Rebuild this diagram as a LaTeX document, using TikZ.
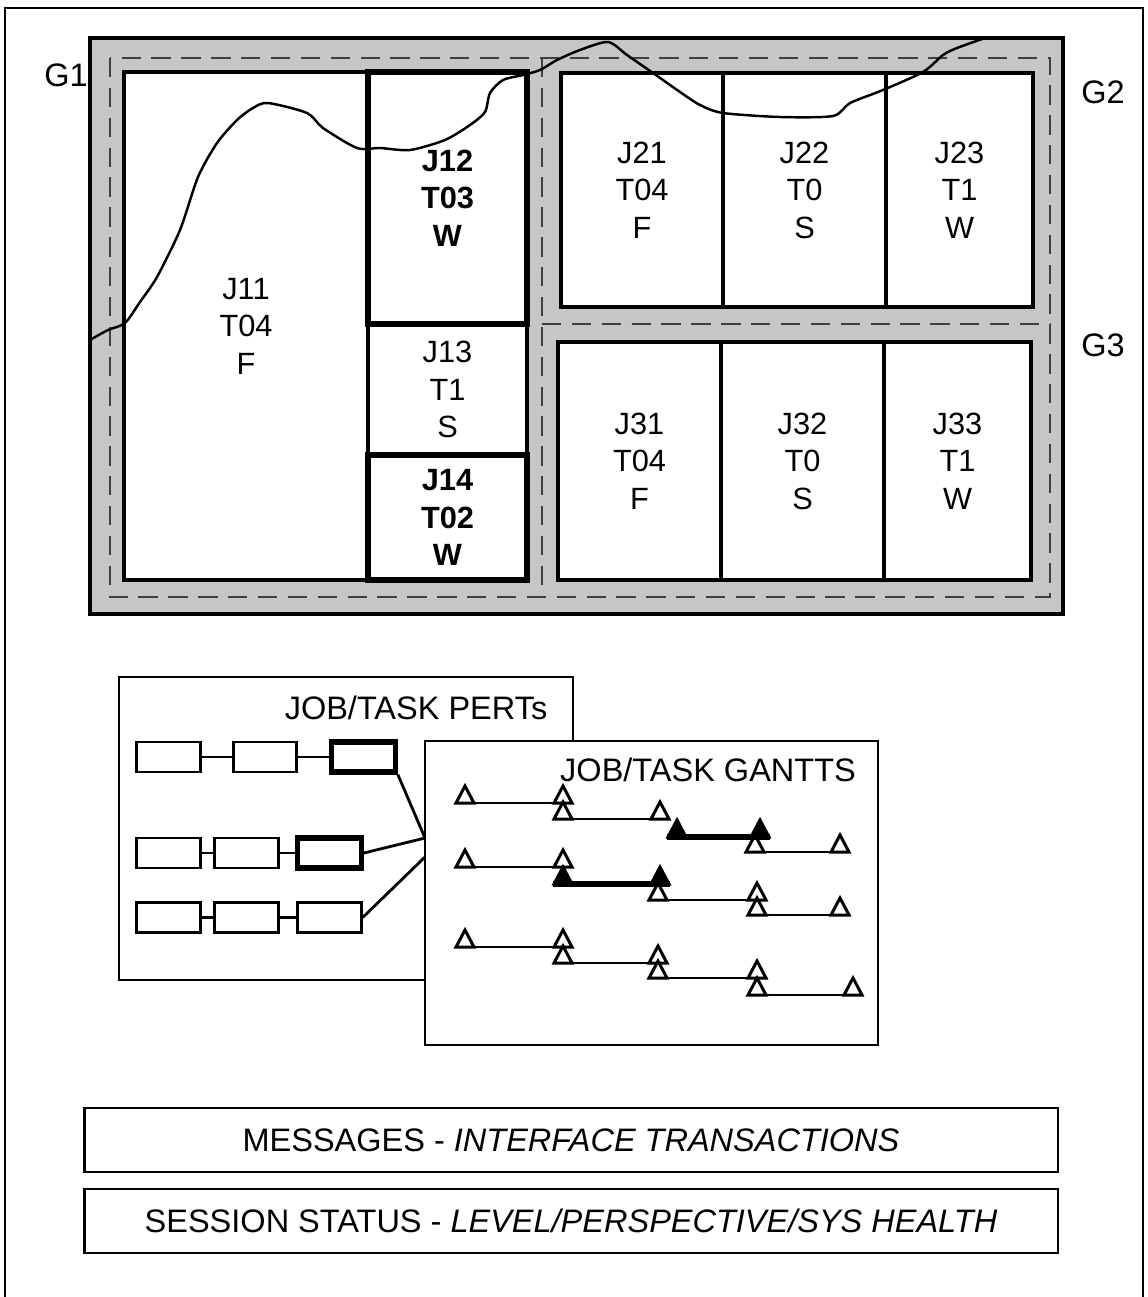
\documentclass[tikz,border=0pt]{standalone}
\usepackage{fontspec}
\setmainfont{Liberation Sans}
\usetikzlibrary{positioning}

\begin{document}
\begin{tikzpicture}[x=0.02cm,y=-0.02cm,font=\fontsize{18.5}{22}\selectfont,
 cell/.style={draw,line width=1.8pt,fill=white,align=center,inner sep=0pt,font=\fontsize{17.5}{21.3}\selectfont},
 cellb/.style={cell,line width=3pt,font=\fontsize{17.5}{21.3}\selectfont\bfseries},
 pbox/.style={draw,line width=1.6pt,fill=white,minimum width=1.27cm,minimum height=0.6cm,inner sep=0pt},
 pboxb/.style={pbox,line width=3pt},
 wide/.style={draw,line width=1.6pt,minimum width=19.48cm,minimum height=1.28cm},
 gline/.style={line width=1.6pt},
 tri/.pic={\draw[line width=1.7pt,fill=white] (-9,0)--(9,0)--(0,-17)--cycle;},
 ftri/.pic={\draw[line width=1.7pt,fill=black] (-9,0)--(9,0)--(0,-17)--cycle;}]
\useasboundingbox (0,0) rectangle (1147,1297);
\draw[line width=1.6pt] (5,1297)--(5,8)--(1143,8)--(1143,1297);
\draw[line width=1.8pt,fill=gray!45] (90,38) rectangle (1063,614);
\draw[black!75,line width=.8pt,dash pattern=on 11pt off 6pt] (110,58) rectangle (1050,597) (542,58)--(542,597) (542,324)--(1050,324);
\node (g1) at (66,75) {G1};\node (g2) at (1103,92) {G2};\node (g3) at (1103,345) {G3};
\node[cell,minimum width=4.88cm,minimum height=10.16cm] (j11) at (246,326) {J11\\T04\\F};
\node[cell,minimum width=3.18cm,minimum height=2.62cm] (j13) at (447.5,389.5) {J13\\T1\\S};
\node[cellb,minimum width=3.18cm,minimum height=5.04cm] (j12) at (447.5,198) {J12\\T03\\W};
\node[cellb,minimum width=3.18cm,minimum height=2.5cm] (j14) at (447.5,517.5) {J14\\T02\\W};
\node[cell,minimum width=3.24cm,minimum height=4.68cm] (j21) at (642,190) {J21\\T04\\F};
\node[cell,minimum width=3.26cm,minimum height=4.68cm] (j22) at (804.5,190) {J22\\T0\\S};
\node[cell,minimum width=2.94cm,minimum height=4.68cm] (j23) at (959.5,190) {J23\\T1\\W};
\node[cell,minimum width=3.26cm,minimum height=4.76cm] (j31) at (639.5,461) {J31\\T04\\F};
\node[cell,minimum width=3.26cm,minimum height=4.76cm] (j32) at (802.5,461) {J32\\T0\\S};
\node[cell,minimum width=2.94cm,minimum height=4.76cm] (j33) at (957.5,461) {J33\\T1\\W};
\draw[line width=1.4pt] plot[smooth,tension=.45] coordinates {(90,340) (108,330) (125,323) (140,302) (157,277) (180,230) (198,177) (217,143) (237,120) (253,108) (268,103) (307,113) (323,128) (357,148) (380,148) (410,150) (445,140) (470,125) (485,112) (490,93) (503,80) (523,75) (540,70) (557,60) (580,50) (608,42) (627,55) (653,73) (680,92) (700,105) (723,113) (780,117) (833,116) (850,103) (883,90) (923,72) (943,55) (957,48) (985,38)};
\draw[line width=1.6pt,fill=white] (119,677) rectangle (573,980);
\node (pert) at (416,708) {JOB/TASK PERTs};
\node[pbox] (p11) at (168.5,757) {};\node[pbox] (p12) at (265,757) {};\node[pboxb] (p13) at (363.5,757) {};
\node[pbox] (p21) at (168.5,853) {};\node[pbox] (p22) at (246.5,853) {};\node[pboxb] (p23) at (329.5,853) {};
\node[pbox] (p31) at (168.5,917.5) {};\node[pbox] (p32) at (246.5,917.5) {};\node[pbox] (p33) at (329.5,917.5) {};
\draw[gline] (p11)--(p12);\draw[gline] (p12)--(p13);
\draw[gline] (p21)--(p22);\draw[gline] (p22)--(p23);
\draw[gline] (p31)--(p32);\draw[gline] (p32)--(p33);
\draw[line width=1.6pt,fill=white] (425,741) rectangle (878,1045);
\node (gantt) at (708,770) {JOB/TASK GANTTS};
\coordinate (ga) at (425,838);\coordinate (gb) at (425,857);
\draw[gline] (p13.south east)--(ga);\draw[gline] (p23.east)--(ga);\draw[gline] (p33.east)--(gb);
\foreach \a/\b/\y in {465/563/803,563/660/819,755/840/852,465/563/867,658/757/900,757/840/915,465/563/947,563/658/963,658/757/978,757/853/995}
 {\draw[gline] (\a-10,\y)--(\b+10,\y);\pic at (\a,\y) {tri};\pic at (\b,\y) {tri};}
\foreach \a/\b/\y in {677/760/837,563/660/884}
 {\draw[line width=3pt] (\a-10,\y)--(\b+10,\y);\pic at (\a,\y) {ftri};\pic at (\b,\y) {ftri};}
\node[wide] (msg) at (571,1140) {MESSAGES - \textit{INTERFACE TRANSACTIONS}};
\node[wide] (sess) at (571,1221) {SESSION STATUS - \textit{LEVEL/PERSPECTIVE/SYS HEALTH}};
\end{tikzpicture}
\end{document}
